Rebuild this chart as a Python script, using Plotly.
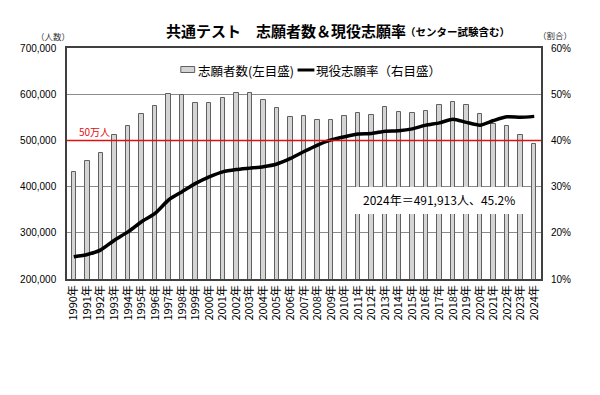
import plotly.graph_objects as go

years = [f"{y}年" for y in range(1990, 2025)]
applicants = [430542, 455855, 472098, 512712, 531177, 557780, 575000, 599962, 597271, 580000,
              581958, 591000, 602887, 602810, 587350, 569950, 551382, 553352, 543385, 543981,
              553368, 558984, 555537, 573344, 560672, 559132, 563768, 575967, 582671, 576830,
              557699, 535245, 530367, 512581, 491913]
rate = [14.8, 15.3, 16.3, 18.4, 20.2, 22.4, 24.2, 27.1, 28.9, 30.7,
        32.1, 33.2, 33.7, 34.0, 34.3, 34.9, 36.1, 37.6, 39.0, 40.1,
        40.8, 41.4, 41.5, 42.0, 42.1, 42.5, 43.3, 43.8, 44.6, 43.9,
        43.3, 44.3, 45.1, 45.0, 45.2]
left_ticks = [200000, 300000, 400000, 500000, 600000, 700000]
right_ticks = [10, 20, 30, 40, 50, 60]

FONT = "Liberation Sans, Arial, Noto Sans CJK JP, sans-serif"
JP = "Noto Sans CJK JP, sans-serif"

# page-pixel -> paper helpers (plot area spans x 62..541, y 48..279 on the page)
def px(x):
    return (x - 62) / 479

def py(y):
    return (279 - y) / 231

fig = go.Figure()
fig.add_trace(go.Bar(
    x=years, y=applicants, name="志願者数(左目盛)",
    marker=dict(color="#d4d4d4", line=dict(color="#606060", width=1)),
    width=0.33, yaxis="y"))
fig.add_trace(go.Scatter(
    x=years, y=rate, name="現役志願率(右目盛)", mode="lines",
    line=dict(color="black", width=3.5, shape="spline", smoothing=0.6),
    yaxis="y2"))

fig.update_layout(
    width=592, height=387,
    margin=dict(l=54, r=59, t=40, b=116),
    paper_bgcolor="white", plot_bgcolor="white",
    font=dict(family=FONT, size=10, color="black"),
    showlegend=False,
    bargap=0,
    xaxis=dict(type="category", tickangle=-90, showgrid=False,
               showline=True, linecolor="#404040", linewidth=1.5, mirror=True,
               tickfont=dict(family=JP, size=11), ticks=""),
    yaxis=dict(range=[200000, 700000], tickvals=left_ticks,
               tickformat=",d", showgrid=True, gridcolor="#8a8a8a", gridwidth=1,
               showline=True, linecolor="#404040", linewidth=1.5, mirror=True,
               tickfont=dict(size=10), zeroline=False, ticklabelstandoff=7),
    yaxis2=dict(range=[10, 60], tickvals=right_ticks,
                ticktext=[f"{v}%" for v in right_ticks],
                overlaying="y", side="right", showgrid=False, zeroline=False,
                tickfont=dict(size=10), ticklabelstandoff=9),
)

# custom legend
fig.add_shape(type="rect", xref="paper", yref="paper", x0=px(177), x1=px(191), y0=py(72.5), y1=py(66.5),
              fillcolor="#d4d4d4", line=dict(color="#606060", width=1), layer="above")
fig.add_annotation(xref="paper", yref="paper", x=px(192), y=py(70),
                   text="志願者数(左目盛)", showarrow=False, xanchor="left", yanchor="middle",
                   font=dict(family=JP, size=12.5))
fig.add_shape(type="line", xref="paper", yref="paper", x0=px(295), x1=px(312), y0=py(70), y1=py(70),
              line=dict(color="black", width=3), layer="above")
fig.add_annotation(xref="paper", yref="paper", x=px(312), y=py(70),
                   text="現役志願率（右目盛）", showarrow=False, xanchor="left", yanchor="middle",
                   font=dict(family=JP, size=12.5))

# 50万人 reference line
fig.add_shape(type="line", xref="paper", x0=0, x1=1, yref="y", y0=500000, y1=500000,
              line=dict(color="#e01010", width=1.5), layer="above")
fig.add_annotation(xref="paper", yref="y", x=px(72), y=500000, yshift=9,
                   text="50万人", showarrow=False, xanchor="left", yanchor="middle",
                   font=dict(family=JP, size=10, color="#e01010"))

# annotation box (white, over bars)
fig.add_shape(type="rect", xref="paper", yref="paper", x0=px(347), x1=px(529), y0=py(214), y1=py(187),
              fillcolor="white", line=dict(width=0), layer="above")
fig.add_annotation(xref="paper", yref="paper", x=px(437.5), y=py(200),
                   text="2024年＝491,913人、45.2%", showarrow=False,
                   xanchor="center", yanchor="middle",
                   font=dict(family=JP, size=12, color="black"))

# titles
fig.add_annotation(xref="paper", yref="paper", x=px(160), y=py(31),
                   text="<b>共通テスト　志願者数＆現役志願率</b>", showarrow=False,
                   xanchor="left", yanchor="middle", font=dict(family=JP, size=15))
fig.add_annotation(xref="paper", yref="paper", x=px(402), y=py(32),
                   text="<b>（センター試験含む）</b>", showarrow=False,
                   xanchor="left", yanchor="middle", font=dict(family=JP, size=10.5))
fig.add_annotation(xref="paper", yref="paper", x=px(48), y=py(36),
                   text="（人数）", showarrow=False,
                   xanchor="center", yanchor="middle", font=dict(family=JP, size=8.5, color="#333"))
fig.add_annotation(xref="paper", yref="paper", x=px(555), y=py(35),
                   text="（割合）", showarrow=False,
                   xanchor="center", yanchor="middle", font=dict(family=JP, size=8.5, color="#333"))

fig.write_html("out.html")
